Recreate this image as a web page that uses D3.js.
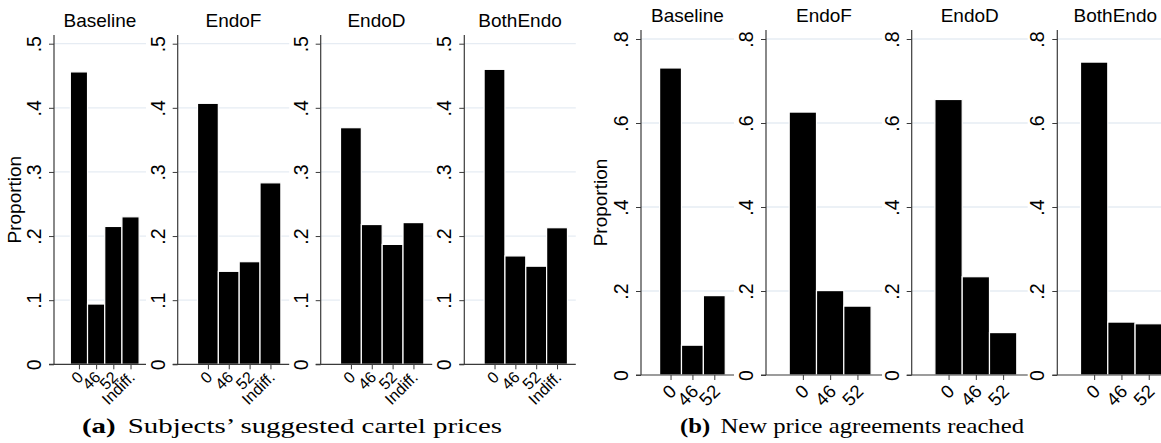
<!DOCTYPE html>
<html>
<head>
<meta charset="utf-8">
<script src="https://cdn.jsdelivr.net/npm/d3@7"></script>
<style>
  html, body { margin: 0; padding: 0; background: #fff; }
  svg { display: block; }
</style>
</head>
<body>
<svg id="chart" width="1161" height="443"></svg>
<script>
// ---------- data ----------
const panelNames = ["Baseline", "EndoF", "EndoD", "BothEndo"];

const catsA = ["0", "46", "52", "Indiff."];
const baselineA = [0.456, 0.094, 0.215, 0.230];
const endoFA    = [0.407, 0.145, 0.160, 0.283];
const endoDA    = [0.369, 0.218, 0.187, 0.221];
const bothEndoA = [0.460, 0.169, 0.153, 0.213];
const yTicksA = [0, 0.1, 0.2, 0.3, 0.4, 0.5];

const catsB = ["0", "46", "52"];
const baselineB = [0.731, 0.071, 0.189];
const endoFB    = [0.626, 0.201, 0.164];
const endoDB    = [0.656, 0.234, 0.101];
const bothEndoB = [0.745, 0.126, 0.122];
const yTicksB = [0, 0.2, 0.4, 0.6, 0.8];

const yLabel = "Proportion";
const captionA = { tag: "(a)", text: "Subjects\u2019 suggested cartel prices" };
const captionB = { tag: "(b)", text: "New price agreements reached" };

// ---------- drawing ----------
const svg = d3.select("#chart");
const FONT = "'Liberation Sans', Arimo, Arial, sans-serif";
const GRID = "#e6ecf3";
const AXIS = "#3a3a3a";
const fmt = d => d === 0 ? "0" : d3.format(".1f")(d).replace(/^0/, "");

function drawGroup(cfg) {
  const { lefts, widths, top, y0, yTop, yMax, yTicks, cats, series, xDomain, titleY, xFont, xOff } = cfg;
  const y = d3.scaleLinear().domain([0, yMax]).range([y0, yTop]);
  series.forEach((vals, pi) => {
    const left = lefts[pi], w = widths[pi];
    const x = d3.scaleLinear().domain(xDomain).range([left, left + w]);
    const step = x(1) - x(0);
    const g = svg.append("g");

    // gridlines
    g.selectAll("line.grid").data(yTicks.filter(t => t > 0)).join("line")
      .attr("x1", left).attr("x2", left + w)
      .attr("y1", d => y(d)).attr("y2", d => y(d))
      .attr("stroke", GRID).attr("stroke-width", 1.3);

    // bars
    g.selectAll("rect.bar").data(vals).join("rect")
      .attr("x", (d, i) => x(i) - step / 2)
      .attr("width", step)
      .attr("y", d => y(d))
      .attr("height", d => y(0) - y(d))
      .attr("fill", "#000")
      .attr("stroke", "#fff").attr("stroke-width", 1.2);

    // y axis
    const ya = d3.axisLeft(y).tickValues(yTicks).tickFormat(fmt).tickSize(5).tickSizeOuter(0);
    const yg = g.append("g").attr("transform", `translate(${left},0)`).call(ya);
    yg.select(".domain").remove();
    yg.selectAll(".tick line").attr("stroke", AXIS);
    yg.selectAll(".tick text")
      .attr("x", null).attr("dy", "0.35em")
      .attr("text-anchor", "middle")
      .attr("transform", "translate(-20,0) rotate(-90)")
      .attr("font-family", FONT).attr("font-size", 19.5).attr("fill", "#000");
    g.append("line").attr("x1", left).attr("x2", left).attr("y1", top).attr("y2", y0)
      .attr("stroke", AXIS).attr("stroke-width", 1.2);

    // x axis
    const xa = d3.axisBottom(x).tickValues(d3.range(cats.length)).tickFormat(i => cats[i]).tickSize(5).tickSizeOuter(0);
    const xg = g.append("g").attr("transform", `translate(0,${y0})`).call(xa);
    xg.select(".domain").remove();
    xg.selectAll(".tick line").attr("stroke", AXIS);
    xg.selectAll(".tick text")
      .attr("y", null).attr("dy", "0.35em")
      .attr("text-anchor", "end")
      .attr("transform", `translate(${xOff[0]},${xOff[1]}) rotate(-45)`)
      .attr("font-family", FONT).attr("font-size", xFont).attr("fill", "#000");
    g.append("line").attr("x1", left - 5).attr("x2", left + w).attr("y1", y0).attr("y2", y0)
      .attr("stroke", AXIS).attr("stroke-width", 1.2);

    // title
    g.append("text").attr("x", left + w / 2).attr("y", titleY)
      .attr("text-anchor", "middle")
      .attr("font-family", FONT).attr("font-size", 19).attr("fill", "#000")
      .text(panelNames[pi]);
  });
  // y title
  const ty = (top + y0) / 2;
  svg.append("text")
    .attr("transform", `translate(${cfg.yTitleX},${ty}) rotate(-90)`)
    .attr("text-anchor", "middle").attr("dy", "0.35em")
    .attr("font-family", FONT).attr("font-size", 19).attr("fill", "#000")
    .text(yLabel);
}

drawGroup({
  lefts: [54, 177.7, 320.7, 464.3], widths: [92, 111.5, 111.5, 111.5],
  top: 35, y0: 364.3, yTop: 43.7, yMax: 0.5, yTicks: yTicksA,
  cats: catsA, series: [baselineA, endoFA, endoDA, bothEndoA],
  xDomain: [-1.45, 3.9], titleY: 27, xFont: 16, xOff: [1, 10], yTitleX: 14.5
});

drawGroup({
  lefts: [641, 766, 911.7, 1057.3], widths: [93, 116, 116, 116],
  top: 30, y0: 375, yTop: 39, yMax: 0.8, yTicks: yTicksB,
  cats: catsB, series: [baselineB, endoFB, endoDB, bothEndoB],
  xDomain: [-1.35, 2.9], titleY: 22, xFont: 18.5, xOff: [2, 13], yTitleX: 600
});

// captions
function caption(c, x, targetW) {
  const t = svg.append("text").attr("x", x).attr("y", 433)
    .attr("font-family", "'Liberation Serif', 'DejaVu Serif', serif")
    .attr("font-size", 21.5).attr("fill", "#000");
  t.append("tspan").attr("font-weight", "bold").text(c.tag);
  t.append("tspan").attr("dx", 9).text(c.text);
  t.attr("textLength", targetW).attr("lengthAdjust", "spacingAndGlyphs");
}
caption(captionA, 82, 420);
caption(captionB, 680, 344);
</script>
</body>
</html>
